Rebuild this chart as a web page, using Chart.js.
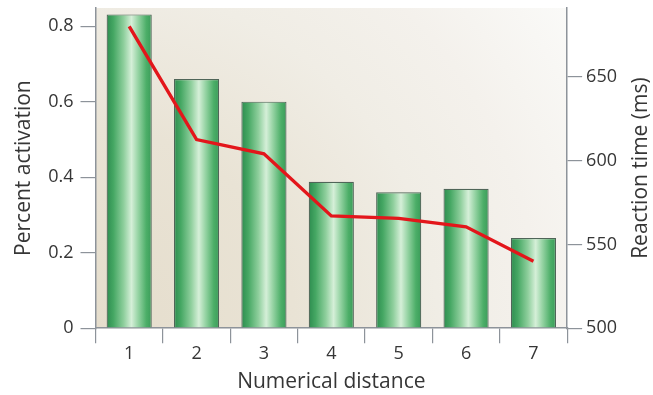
<!DOCTYPE html>
<html>
<head>
<meta charset="utf-8">
<script src="https://cdn.jsdelivr.net/npm/chart.js@4.4.1/dist/chart.umd.min.js"></script>
<style>
  html, body { margin: 0; padding: 0; background: #ffffff; }
  #wrap { width: 653px; height: 395px; }
</style>
</head>
<body>
<div id="wrap"><canvas id="c" width="653" height="395"></canvas></div>
<script>
// Numerical distance between compared numbers
const distances = ['1', '2', '3', '4', '5', '6', '7'];
// Percent activation (bars, left axis)
const activation = [0.831, 0.660, 0.600, 0.388, 0.360, 0.369, 0.239];
// Reaction time in ms (line, right axis)
const reactionTime = [680, 612.5, 604, 567, 565.5, 560.5, 540];
// Axis tick values
const activationTicks = [0, 0.2, 0.4, 0.6, 0.8];
const reactionTicks = [500, 550, 600, 650];

const FONT = "'Open Sans', 'DejaVu Sans', sans-serif";
const TEXT = '#363636';
const AXIS = '#8d939a';
const BAR_FRACTION = 0.67;
const RIGHT_TITLE = 'Reaction time (ms)';

// Cylindrical green shading across each bar
function barFill(ctx) {
  const chart = ctx.chart;
  const xs = chart.scales && chart.scales.x;
  if (!chart.chartArea || !xs || !isFinite(xs.width) || xs.width <= 0) return '#4caf6a';
  const cx = xs.getPixelForValue(ctx.dataIndex);
  const w = (xs.width / distances.length) * BAR_FRACTION;
  if (!isFinite(cx)) return '#4caf6a';
  const g = chart.ctx.createLinearGradient(cx - w / 2, 0, cx + w / 2, 0);
  g.addColorStop(0.0, '#2d8c4f');
  g.addColorStop(0.15, '#45a763');
  g.addColorStop(0.38, '#8fcf9d');
  g.addColorStop(0.55, '#d5efd8');
  g.addColorStop(0.7, '#95d3a3');
  g.addColorStop(0.88, '#4cae68');
  g.addColorStop(1.0, '#3a9c59');
  return g;
}

// Soft radial wash behind the plot area
const plotBackground = {
  id: 'plotBackground',
  beforeDraw(chart) {
    const { ctx, chartArea: a } = chart;
    ctx.save();
    const r = Math.hypot(a.right - a.left, a.bottom - a.top);
    const g = ctx.createRadialGradient(a.left, a.bottom, 0, a.left, a.bottom, r);
    g.addColorStop(0.0, '#e5ddcc');
    g.addColorStop(0.35, '#e9e3d5');
    g.addColorStop(0.6, '#f0ede5');
    g.addColorStop(0.78, '#f4f1ec');
    g.addColorStop(1.0, '#fafaf8');
    ctx.fillStyle = g;
    ctx.fillRect(a.left, a.top, a.right - a.left, a.bottom - a.top);
    ctx.restore();
  }
};

// Right axis title, reading bottom-to-top like the left one
const rightTitle = {
  id: 'rightTitle',
  afterDraw(chart) {
    const { ctx, chartArea: a } = chart;
    ctx.save();
    ctx.translate(chart.width - 12, (a.top + a.bottom) / 2);
    ctx.rotate(-Math.PI / 2);
    ctx.fillStyle = TEXT;
    ctx.font = "21px " + FONT;
    ctx.textAlign = 'center';
    ctx.textBaseline = 'middle';
    ctx.fillText(RIGHT_TITLE, 0, 0);
    ctx.restore();
  }
};

const noEdgePadding = (s) => { s.paddingTop = 0; s.paddingBottom = 0; };

new Chart(document.getElementById('c'), {
  type: 'bar',
  data: {
    labels: distances,
    datasets: [
      {
        type: 'line',
        data: reactionTime,
        yAxisID: 'y1',
        borderColor: '#e3161b',
        borderWidth: 3.4,
        pointRadius: 0,
        tension: 0,
        fill: false,
        order: 0
      },
      {
        type: 'bar',
        data: activation,
        yAxisID: 'y',
        backgroundColor: barFill,
        borderColor: '#4f6558',
        borderWidth: 1.2,
        categoryPercentage: 1.0,
        barPercentage: BAR_FRACTION,
        order: 1
      }
    ]
  },
  options: {
    responsive: false,
    animation: false,
    devicePixelRatio: 1,
    layout: { padding: { left: 10, right: 32, top: 8, bottom: 0 } },
    plugins: { legend: { display: false }, tooltip: { enabled: false } },
    scales: {
      x: {
        offset: true,
        grid: {
          offset: true,
          drawOnChartArea: false,
          drawTicks: true,
          tickLength: 15,
          lineWidth: 1.2,
          color: (c) => (c.index === distances.length ? 'rgba(0,0,0,0)' : AXIS)
        },
        border: { display: true, color: AXIS, width: 1.5 },
        ticks: { color: TEXT, font: { family: FONT, size: 18 }, padding: 0 },
        title: {
          display: true,
          text: 'Numerical distance',
          color: TEXT,
          font: { family: FONT, size: 21 },
          padding: { top: 5, bottom: 0 }
        }
      },
      y: {
        position: 'left',
        min: 0,
        max: 0.848,
        afterBuildTicks: (s) => { s.ticks = activationTicks.map(v => ({ value: v })); },
        afterFit: noEdgePadding,
        grid: { drawOnChartArea: false, tickLength: 15, color: AXIS, lineWidth: 1.2 },
        border: { display: true, color: AXIS, width: 1.5 },
        ticks: {
          color: TEXT,
          font: { family: FONT, size: 18 },
          padding: 7,
          callback: (v) => (v === 0 ? '0' : String(+v.toFixed(1)))
        },
        title: {
          display: true,
          text: 'Percent activation',
          color: TEXT,
          font: { family: FONT, size: 21 },
          padding: { top: 1, bottom: 5 }
        }
      },
      y1: {
        position: 'right',
        min: 500,
        max: 691,
        afterBuildTicks: (s) => { s.ticks = reactionTicks.map(v => ({ value: v })); },
        afterFit: noEdgePadding,
        grid: { drawOnChartArea: false, tickLength: 15, color: AXIS, lineWidth: 1.2 },
        border: { display: true, color: AXIS, width: 1.5 },
        ticks: { color: TEXT, font: { family: FONT, size: 18 }, padding: 4 },
        title: { display: false }
      }
    }
  },
  plugins: [plotBackground, rightTitle]
});
</script>
</body>
</html>
